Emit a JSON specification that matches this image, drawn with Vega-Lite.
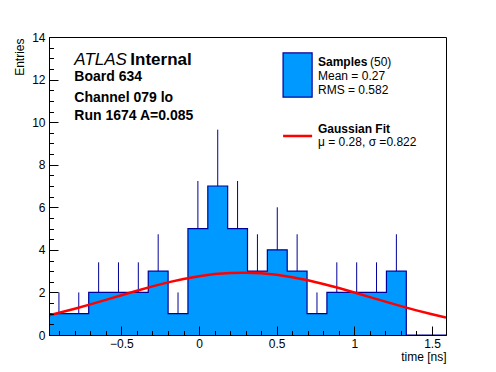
{
  "$schema": "https://vega.github.io/schema/vega-lite/v6.json",
  "width": 397,
  "height": 298,
  "autosize": "none",
  "padding": {"left": 49, "top": 37, "right": 50, "bottom": 37},
  "background": "white",
  "datasets": {
    "bins": [
      {"lo": -0.966, "mid": -0.9021, "count": 1, "errhi": 2},
      {"lo": -0.8382, "mid": -0.7743, "count": 1, "errhi": 2},
      {"lo": -0.7104, "mid": -0.6465, "count": 2, "errhi": 3.414},
      {"lo": -0.5826, "mid": -0.5187, "count": 2, "errhi": 3.414},
      {"lo": -0.4548, "mid": -0.3909, "count": 2, "errhi": 3.414},
      {"lo": -0.327, "mid": -0.2631, "count": 3, "errhi": 4.732},
      {"lo": -0.1992, "mid": -0.1353, "count": 1, "errhi": 2},
      {"lo": -0.0714, "mid": -0.0075, "count": 5, "errhi": 7.236},
      {"lo": 0.0564, "mid": 0.1203, "count": 7, "errhi": 9.646},
      {"lo": 0.1842, "mid": 0.2481, "count": 5, "errhi": 7.236},
      {"lo": 0.312, "mid": 0.3759, "count": 3, "errhi": 4.732},
      {"lo": 0.4398, "mid": 0.5037, "count": 4, "errhi": 6},
      {"lo": 0.5676, "mid": 0.6315, "count": 3, "errhi": 4.732},
      {"lo": 0.6954, "mid": 0.7593, "count": 1, "errhi": 2},
      {"lo": 0.8232, "mid": 0.8871, "count": 2, "errhi": 3.414},
      {"lo": 0.951, "mid": 1.0149, "count": 2, "errhi": 3.414},
      {"lo": 1.0788, "mid": 1.1427, "count": 2, "errhi": 3.414},
      {"lo": 1.2066, "mid": 1.2705, "count": 3, "errhi": 4.732},
      {"lo": 1.3344, "mid": 1.3983, "count": 0, "errhi": null},
      {"lo": 1.4622, "mid": 1.5261, "count": 0, "errhi": null},
      {"lo": 1.59, "mid": null, "count": 0, "errhi": null}
    ],
    "fit": [
      {"t": -0.966, "f": 0.929}, {"t": -0.9, "f": 1.046}, {"t": -0.8, "f": 1.236},
      {"t": -0.7, "f": 1.44}, {"t": -0.6, "f": 1.652}, {"t": -0.5, "f": 1.868},
      {"t": -0.4, "f": 2.081}, {"t": -0.3, "f": 2.284}, {"t": -0.2, "f": 2.471},
      {"t": -0.1, "f": 2.633}, {"t": 0.0, "f": 2.765}, {"t": 0.1, "f": 2.861},
      {"t": 0.2, "f": 2.916}, {"t": 0.28, "f": 2.93}, {"t": 0.3, "f": 2.929},
      {"t": 0.4, "f": 2.899}, {"t": 0.5, "f": 2.827}, {"t": 0.6, "f": 2.716},
      {"t": 0.7, "f": 2.571}, {"t": 0.8, "f": 2.399}, {"t": 0.9, "f": 2.205},
      {"t": 1.0, "f": 1.997}, {"t": 1.1, "f": 1.781}, {"t": 1.2, "f": 1.566},
      {"t": 1.3, "f": 1.357}, {"t": 1.4, "f": 1.158}, {"t": 1.5, "f": 0.974},
      {"t": 1.59, "f": 0.823}
    ]
  },
  "resolve": {"axis": {"x": "independent", "y": "independent"}},
  "layer": [
    {
      "data": {"name": "bins"},
      "mark": {"type": "area", "interpolate": "step-after", "color": "#0099ff", "opacity": 1},
      "encoding": {
        "x": {
          "field": "lo", "type": "quantitative",
          "scale": {"domain": [-0.966, 1.59], "nice": false, "zero": false},
          "axis": {
            "title": "time [ns]",
            "orient": "bottom",
            "zindex": 1,
            "values": [-0.5, 0, 0.5, 1, 1.5],
            "tickSize": -9,
            "format": "~g",
            "labelPadding": 12,
            "labelFlush": false,
            "labelOverlap": false,
            "titleAnchor": "end",
            "titleAlign": "right",
            "titleBaseline": "middle",
            "titleX": 397,
            "titleY": 21
          }
        },
        "y": {
          "field": "count", "type": "quantitative",
          "scale": {"domain": [0, 14], "nice": false, "zero": true},
          "axis": {
            "title": "Entries",
            "orient": "left",
            "zindex": 1,
            "values": [0, 2, 4, 6, 8, 10, 12, 14],
            "tickSize": -9,
            "format": "~g",
            "labelPadding": 13,
            "labelFlush": false,
            "labelOverlap": false,
            "titleAnchor": "end",
            "titleAlign": "right",
            "titleBaseline": "middle",
            "titleAngle": -90,
            "titleX": -30,
            "titleY": 1
          }
        }
      }
    },
    {
      "data": {"name": "bins"},
      "mark": {"type": "line", "interpolate": "step-after", "color": "#000099", "strokeWidth": 1.2},
      "encoding": {
        "x": {
          "field": "lo", "type": "quantitative",
          "axis": {
            "orient": "bottom",
            "zindex": 1,
            "title": null,
            "labels": false,
            "domain": false,
            "values": [-0.9, -0.8, -0.7, -0.6, -0.4, -0.3, -0.2, -0.1, 0.1, 0.2, 0.3, 0.4, 0.6, 0.7, 0.8, 0.9, 1.1, 1.2, 1.3, 1.4],
            "tickSize": -4.5
          }
        },
        "y": {
          "field": "count", "type": "quantitative",
          "axis": {
            "orient": "left",
            "zindex": 1,
            "title": null,
            "labels": false,
            "domain": false,
            "values": [0.5, 1, 1.5, 2.5, 3, 3.5, 4.5, 5, 5.5, 6.5, 7, 7.5, 8.5, 9, 9.5, 10.5, 11, 11.5, 12.5, 13, 13.5],
            "tickSize": -4.5
          }
        }
      }
    },
    {
      "data": {"name": "bins"},
      "transform": [{"filter": "datum.count > 0"}],
      "mark": {"type": "rule", "color": "#000099", "strokeWidth": 1},
      "encoding": {
        "x": {"field": "mid", "type": "quantitative", "axis": null},
        "y": {"field": "count", "type": "quantitative", "axis": null},
        "y2": {"field": "errhi"}
      }
    },
    {
      "data": {"name": "fit"},
      "mark": {"type": "line", "color": "#ff0000", "strokeWidth": 2.5, "clip": true},
      "encoding": {
        "x": {"field": "t", "type": "quantitative", "axis": null},
        "y": {"field": "f", "type": "quantitative", "axis": null}
      }
    },
    {
      "data": {"values": [{}]},
      "mark": {"type": "rect", "fill": "#0099ff", "stroke": "#000099", "strokeWidth": 1.2},
      "encoding": {
        "x": {"datum": 0.541, "type": "quantitative", "axis": null},
        "x2": {"datum": 0.728},
        "y": {"datum": 13.25, "type": "quantitative", "axis": null},
        "y2": {"datum": 11.18}
      }
    },
    {
      "data": {"values": [{}]},
      "mark": {"type": "rule", "color": "#ff0000", "strokeWidth": 2.5},
      "encoding": {
        "x": {"datum": 0.541, "type": "quantitative", "axis": null},
        "x2": {"datum": 0.728},
        "y": {"datum": 9.35, "type": "quantitative", "axis": null}
      }
    },
    {
      "data": {"values": [{"text": "ATLAS"}]},
      "mark": {"type": "text", "align": "left", "baseline": "middle", "fontSize": 17, "fontStyle": "italic", "font": "Liberation Sans", "color": "black"},
      "encoding": {
        "x": {"datum": -0.803, "type": "quantitative", "axis": null},
        "y": {"datum": 12.92, "type": "quantitative", "axis": null},
        "text": {"field": "text"}
      }
    },
    {
      "data": {"values": [{"text": "Internal"}]},
      "mark": {"type": "text", "align": "left", "baseline": "middle", "fontSize": 17, "fontWeight": "bold", "font": "Liberation Sans", "color": "black", "dx": 56},
      "encoding": {
        "x": {"datum": -0.803, "type": "quantitative", "axis": null},
        "y": {"datum": 12.92, "type": "quantitative", "axis": null},
        "text": {"field": "text"}
      }
    },
    {
      "data": {"values": [{"text": "Board 634", "v": 12.1}, {"text": "Channel 079 lo", "v": 11.15}, {"text": "Run 1674 A=0.085", "v": 10.3}]},
      "mark": {"type": "text", "align": "left", "baseline": "middle", "fontSize": 14, "fontWeight": "bold", "font": "Liberation Sans", "color": "black"},
      "encoding": {
        "x": {"datum": -0.803, "type": "quantitative", "axis": null},
        "y": {"field": "v", "type": "quantitative", "axis": null},
        "text": {"field": "text"}
      }
    },
    {
      "data": {"values": [{"text": "Samples", "v": 12.84}, {"text": "Gaussian Fit", "v": 9.68}]},
      "mark": {"type": "text", "align": "left", "baseline": "middle", "fontSize": 12, "fontWeight": "bold", "font": "Liberation Sans", "color": "black"},
      "encoding": {
        "x": {"datum": 0.766, "type": "quantitative", "axis": null},
        "y": {"field": "v", "type": "quantitative", "axis": null},
        "text": {"field": "text"}
      }
    },
    {
      "data": {"values": [{"text": "(50)", "v": 12.84}]},
      "mark": {"type": "text", "align": "left", "baseline": "middle", "fontSize": 12, "font": "Liberation Sans", "color": "black", "dx": 52},
      "encoding": {
        "x": {"datum": 0.766, "type": "quantitative", "axis": null},
        "y": {"field": "v", "type": "quantitative", "axis": null},
        "text": {"field": "text"}
      }
    },
    {
      "data": {"values": [{"text": "Mean = 0.27", "v": 12.17}, {"text": "RMS = 0.582", "v": 11.51}, {"text": "μ = 0.28, σ =0.822", "v": 9.08}]},
      "mark": {"type": "text", "align": "left", "baseline": "middle", "fontSize": 12, "font": "Liberation Sans", "color": "black"},
      "encoding": {
        "x": {"datum": 0.766, "type": "quantitative", "axis": null},
        "y": {"field": "v", "type": "quantitative", "axis": null},
        "text": {"field": "text"}
      }
    }
  ],
  "config": {
    "view": {"stroke": "black", "strokeWidth": 1},
    "axis": {
      "labelFont": "Liberation Sans",
      "titleFont": "Liberation Sans",
      "labelFontSize": 12,
      "titleFontSize": 12,
      "titleFontWeight": "normal",
      "labelColor": "black",
      "titleColor": "black",
      "domainColor": "black",
      "domainWidth": 1,
      "tickColor": "black",
      "tickWidth": 1,
      "grid": false
    }
  }
}
